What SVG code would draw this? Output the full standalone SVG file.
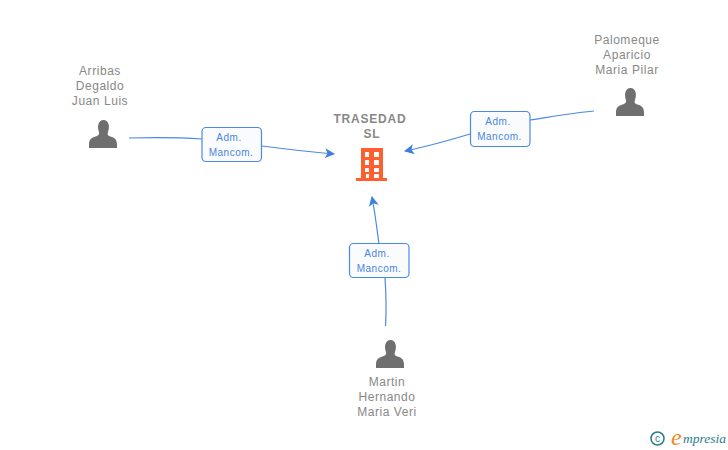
<svg xmlns="http://www.w3.org/2000/svg" width="728" height="450" viewBox="0 0 728 450">
<style>
text{font-family:"Liberation Sans",Arial,sans-serif}
.n{font-size:12px;fill:#888;text-anchor:middle;letter-spacing:.55px}
.t{font-size:12px;font-weight:bold;fill:#888;text-anchor:middle;letter-spacing:.8px}
.l{font-size:10px;fill:#4a86e0;text-anchor:middle;letter-spacing:.5px}
.b{fill:#fafbfd;stroke:#4a8ae6;stroke-width:1.2}
.c{fill:none;stroke:#4a8ae6;stroke-width:1.2}
.p{fill:#6f6f6f}
.s{font-family:"Liberation Serif",serif;font-style:italic}
</style>
<defs>
<marker id="a" markerWidth="12" markerHeight="10" refX="9" refY="5" orient="auto" markerUnits="userSpaceOnUse"><path d="M0 0L10 5L0 10L2.500 5Z" fill="#3f7fdc"/></marker>
<path id="u" d="M-4 -11C-6 -16 -5 -23 0.500 -23C6 -23 7 -16 5 -11C4 -8 5 -7.500 7.500 -6.500C11.500 -5 14 -4 14 1.500L14 5L-14 5L-14 1.500C-14 -4 -11.500 -5 -7.500 -6.500C-5 -7.500 -3.500 -8 -4 -11Z"/>
</defs>
<g id="connectors">
<path class="c" d="M129 138C150 137.500 180 137.500 202 139"/>
<path class="c" d="M262 146C285 149 310 152 334 154" marker-end="url(#a)"/>
<path class="c" d="M594 111C572 113 550 117 530 120"/>
<path class="c" d="M470 134C450 140 425 147 405 151" marker-end="url(#a)"/>
<path class="c" d="M385.500 326C386.500 310 386 292 385 278"/>
<path class="c" d="M379 244C377 230 375 212 372 197" marker-end="url(#a)"/>
</g>
<g id="company">
<text class="t" x="370" y="123">TRASEDAD</text>
<text class="t" x="372" y="138">SL</text>
<path fill="#ff5f2e" fill-rule="evenodd" d="M361 148H383V178H387V181H356V178H361ZM365 152V157H369V152ZM374 152V157H379V152ZM365 160V165H369V160ZM374 160V165H379V160ZM365 168V172H369V168ZM374 168V172H379V168ZM366 174V178H369V174ZM374 174V178H379V174Z"/>
</g>
<g id="person-arribas">
<text class="n" x="100" y="75">Arribas</text>
<text class="n" x="100" y="90">Degaldo</text>
<text class="n" x="100" y="105">Juan Luis</text>
<use href="#u" class="p" x="103" y="143"/>
</g>
<g id="person-palomeque">
<text class="n" x="627" y="44">Palomeque</text>
<text class="n" x="627" y="59">Aparicio</text>
<text class="n" x="627" y="74">Maria Pilar</text>
<use href="#u" class="p" x="630" y="111"/>
</g>
<g id="person-martin">
<text class="n" x="387" y="386">Martin</text>
<text class="n" x="387" y="401">Hernando</text>
<text class="n" x="387" y="416">Maria Veri</text>
<use href="#u" class="p" x="390" y="363"/>
</g>
<g id="label-1">
<rect class="b" x="202" y="127.500" width="59.500" height="34" rx="4"/>
<text class="l" x="229" y="141">Adm.</text>
<text class="l" x="231" y="156">Mancom.</text>
</g>
<g id="label-2">
<rect class="b" x="470.500" y="111.500" width="59.500" height="35" rx="4"/>
<text class="l" x="498" y="125">Adm.</text>
<text class="l" x="499.500" y="140">Mancom.</text>
</g>
<g id="label-3">
<rect class="b" x="349.500" y="243.500" width="59.500" height="34" rx="4"/>
<text class="l" x="377" y="257">Adm.</text>
<text class="l" x="379" y="272">Mancom.</text>
</g>
<g id="brand">
<circle cx="657.500" cy="438.500" r="6.500" fill="none" stroke="#2f7f8f" stroke-width="1.600"/>
<text x="657.500" y="442" font-size="10" text-anchor="middle" fill="#2f7f8f">c</text>
<text class="s" x="671" y="445" font-size="24" fill="#f08a1d">e</text>
<text class="s" x="683" y="443" font-size="13.500" fill="#2a7d8c">mpresia</text>
</g>
</svg>
